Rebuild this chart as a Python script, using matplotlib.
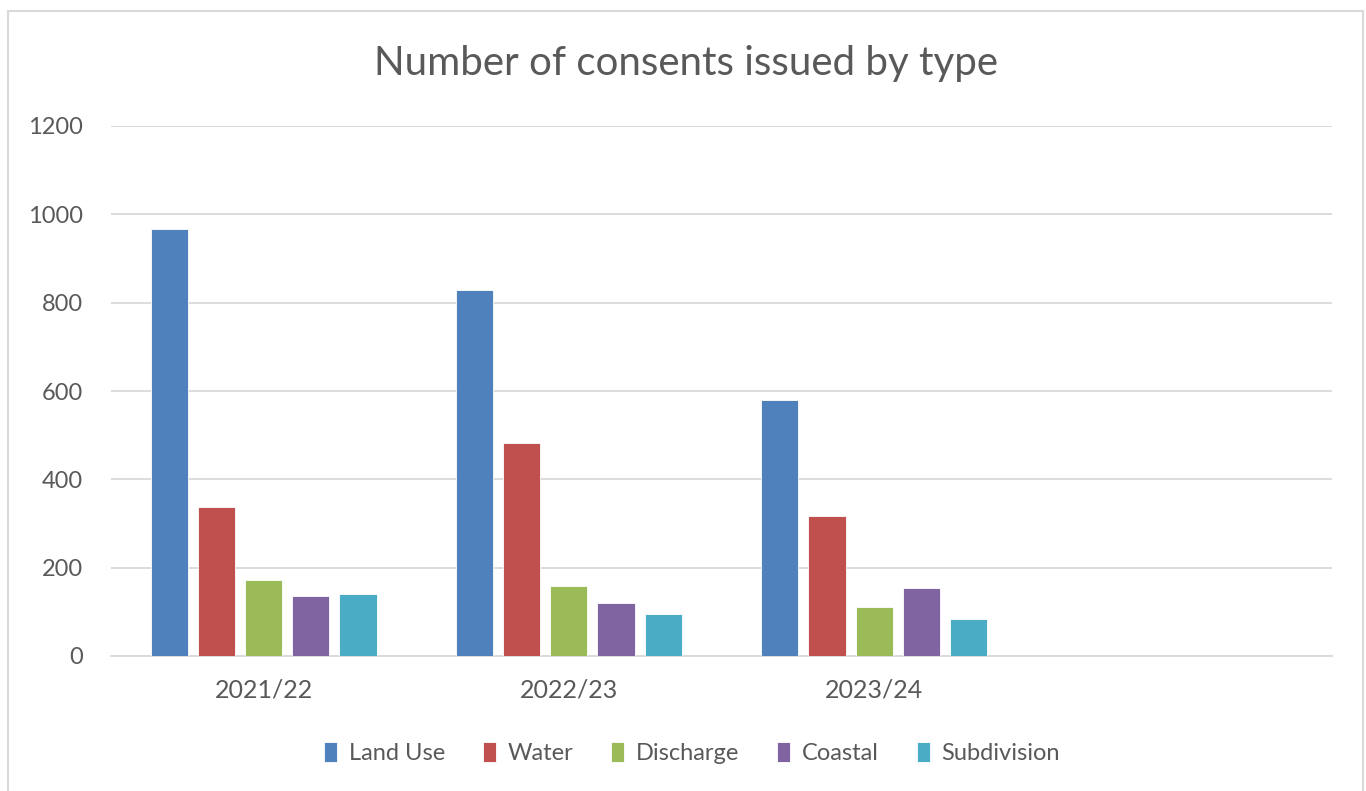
import matplotlib
matplotlib.use("Agg")
import matplotlib.pyplot as plt
import numpy as np
from matplotlib.patches import Rectangle

plt.rcParams['font.family'] = ['Lato', 'DejaVu Sans']

categories = ["2021/22", "2022/23", "2023/24", ""]
series_names = ["Land Use", "Water", "Discharge", "Coastal", "Subdivision"]
land_use = [966, 829, 579, None]
water = [338, 483, 318, None]
discharge = [172, 158, 110, None]
coastal = [136, 121, 153, None]
subdivision = [141, 94, 83, None]
series_values = [land_use, water, discharge, coastal, subdivision]
colors = ["#4F81BD", "#C0504D", "#9BBB59", "#8064A2", "#4BACC6"]
yticks = [0, 200, 400, 600, 800, 1000, 1200]

TXT = "#595959"
W, H = 1366, 791
fig = plt.figure(figsize=(W / 100, H / 100), dpi=100)
fig.patch.set_facecolor("white")

# chart border
fig.add_artist(Rectangle((8 / W, -0.01), (1363 - 8) / W, 1 - 11 / H + 0.01,
                         transform=fig.transFigure, fill=False,
                         edgecolor="#D9D9D9", linewidth=1.5))

ax = fig.add_axes([111 / W, 1 - 656 / H, (1332 - 111) / W, (656 - 126) / H])
x = np.arange(len(categories))
step = 0.1547
width = 0.122
for i, (name, vals, c) in enumerate(zip(series_names, series_values, colors)):
    xs = [xi + (i - 2) * step for xi, v in zip(x, vals) if v is not None]
    ys = [v for v in vals if v is not None]
    ax.bar(xs, ys, width=width, color=c, edgecolor="white", linewidth=0.6,
           label=name, zorder=3)

ax.set_xlim(-0.5, len(categories) - 0.5)
ax.set_ylim(0, 1200)
ax.set_yticks(yticks)
ax.set_xticks(x)
ax.set_xticklabels(categories)
ax.grid(axis="y", color="#D9D9D9", linewidth=1.3, zorder=0)
ax.set_axisbelow(True)
for s in ["top", "right", "left"]:
    ax.spines[s].set_visible(False)
ax.spines["bottom"].set_color("#D9D9D9")
ax.spines["bottom"].set_linewidth(1.3)
ax.tick_params(axis="both", length=0, colors=TXT, labelsize=17)
ax.tick_params(axis="y", pad=20)
ax.tick_params(axis="x", pad=16, labelsize=18)

fig.text(686 / W, 1 - 63 / H, "Number of consents issued by type",
         ha="center", va="center", fontsize=29, color=TXT)

leg = fig.legend(loc="center", bbox_to_anchor=(692 / W, 1 - 753 / H), ncol=5,
                 frameon=False, fontsize=17, handlelength=0.55, handleheight=0.9,
                 handletextpad=0.5, columnspacing=1.6, labelcolor=TXT)

fig.savefig("out.png", dpi=100, facecolor="white")
